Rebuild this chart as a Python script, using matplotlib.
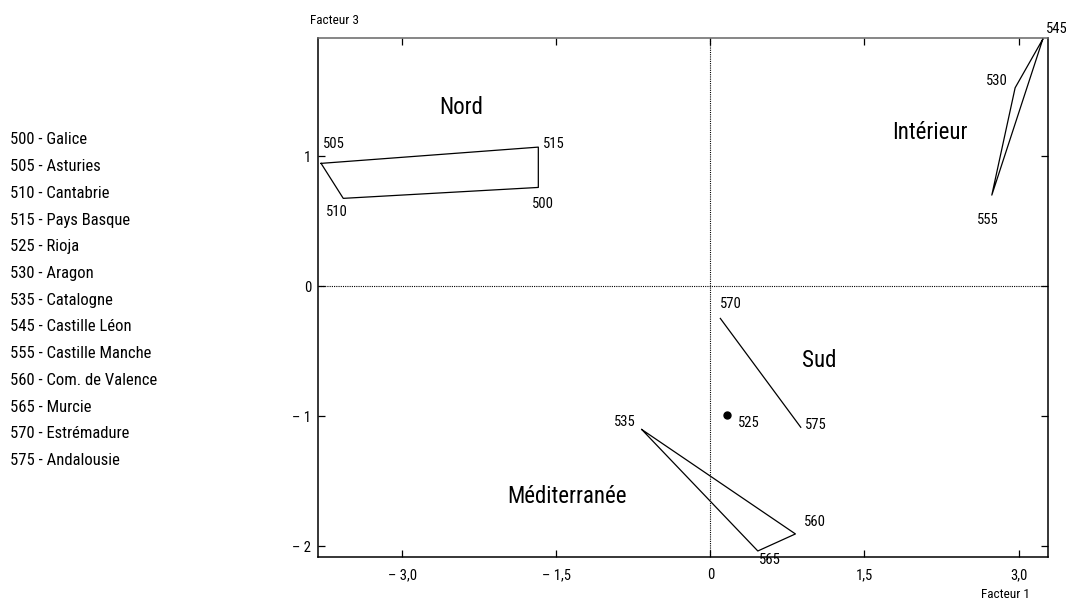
import matplotlib
matplotlib.use("Agg")
import matplotlib.pyplot as plt
from matplotlib import font_manager

# ---- data ----
codes = ["500", "505", "510", "515", "525", "530", "535", "545", "555", "560", "565", "570", "575"]
names = ["Galice", "Asturies", "Cantabrie", "Pays Basque", "Rioja", "Aragon", "Catalogne",
         "Castille Léon", "Castille Manche", "Com. de Valence", "Murcie", "Estrémadure", "Andalousie"]
factor1 = [-1.675, -3.79, -3.574, -1.675, 0.166, 2.967, -0.668, 3.237, 2.74, 0.828, 0.462, 0.097, 0.88]
factor3 = [0.759, 0.944, 0.675, 1.069, -0.992, 1.525, -1.102, 1.90, 0.70, -1.905, -2.036, -0.248, -1.085]

groups = ["Nord", "Intérieur", "Sud", "Méditerranée"]
group_members = [["505", "515", "500", "510"], ["545", "530", "555"], ["570", "575"], ["535", "560", "565"]]
group_closed = [True, True, False, True]
single_points = ["525"]

xticks = [-3.0, -1.5, 0, 1.5, 3.0]
xtick_labels = ["\u2013 3,0", "\u2013 1,5", "0", "1,5", "3,0"]
yticks = [1, 0, -1, -2]
ytick_labels = ["1", "0", "\u2013 1", "\u2013 2"]

# ---- style ----
avail = {f.name for f in font_manager.fontManager.ttflist}
fam = "DejaVu Sans"
for cand in ["Roboto Condensed", "Archivo Narrow", "PT Sans Narrow", "Barlow Semi Condensed", "Asap Condensed"]:
    if cand in avail:
        fam = cand
        break
plt.rcParams["font.family"] = [fam, "DejaVu Sans"]

# label offsets in pixels (dx right, dy down)
label_offsets = {"505": (13, -19), "515": (15, -3), "500": (5, 17), "510": (-6, 14),
                 "545": (14, -10), "530": (-18, -7), "555": (-4, 25), "570": (11, -14),
                 "575": (15, -2), "525": (21, 8), "535": (-17, -7), "560": (20, -12),
                 "565": (12, 9)}
group_label_pos = [(-2.43, 1.37), (2.14, 1.185), (1.06, -0.57), (-1.40, -1.62)]

fig = plt.figure(figsize=(10.66, 6.01), dpi=100)
ax = fig.add_axes([0.2983, 0.0737, 0.6851, 0.8631])
ax.set_xlim(-3.82, 3.29)
ax.set_ylim(-2.08, 1.908)

pos = {c: (x, y) for c, x, y in zip(codes, factor1, factor3)}

ax.axhline(0, color="black", lw=0.8, ls=(0, (1, 1)))
ax.axvline(0, color="black", lw=0.8, ls=(0, (1, 1)))

for members, closed in zip(group_members, group_closed):
    pts = [pos[m] for m in members]
    if closed:
        pts = pts + [pts[0]]
    ax.plot([p[0] for p in pts], [p[1] for p in pts], color="black", lw=0.9, clip_on=False)

for c in single_points:
    ax.plot(pos[c][0], pos[c][1], "o", color="black", ms=5, clip_on=False)

for c in codes:
    dx, dy = label_offsets[c]
    ax.annotate(c, pos[c], xytext=(dx * 0.72, -dy * 0.72), textcoords="offset points",
                ha="center", va="center", fontsize=10.5, annotation_clip=False)

for g, (gx, gy) in zip(groups, group_label_pos):
    ax.text(gx, gy, g, ha="center", va="center", fontsize=16.5)

ax.set_xticks(xticks)
ax.set_xticklabels(xtick_labels, fontsize=10.5)
ax.set_yticks(yticks)
ax.set_yticklabels(ytick_labels, fontsize=10.5)
ax.tick_params(direction="in", top=True, right=True, length=5, width=0.9, pad=5)
ax.tick_params(axis="x", pad=8)
for s in ax.spines.values():
    s.set_linewidth(1.1)
ax.spines["top"].set_color("#666666")

fig.text(310 / 1066, 1 - 20.7 / 601, "Facteur 3", ha="left", va="center", fontsize=9.5)
fig.text(1030 / 1066, 1 - 594 / 601, "Facteur 1", ha="right", va="center", fontsize=9.5)

for i, (c, n) in enumerate(zip(codes, names)):
    fig.text(10 / 1066, 1 - (140 + i * 26.7) / 601, f"{c} - {n}", ha="left", va="center", fontsize=12)

fig.savefig("out.png", dpi=100)
